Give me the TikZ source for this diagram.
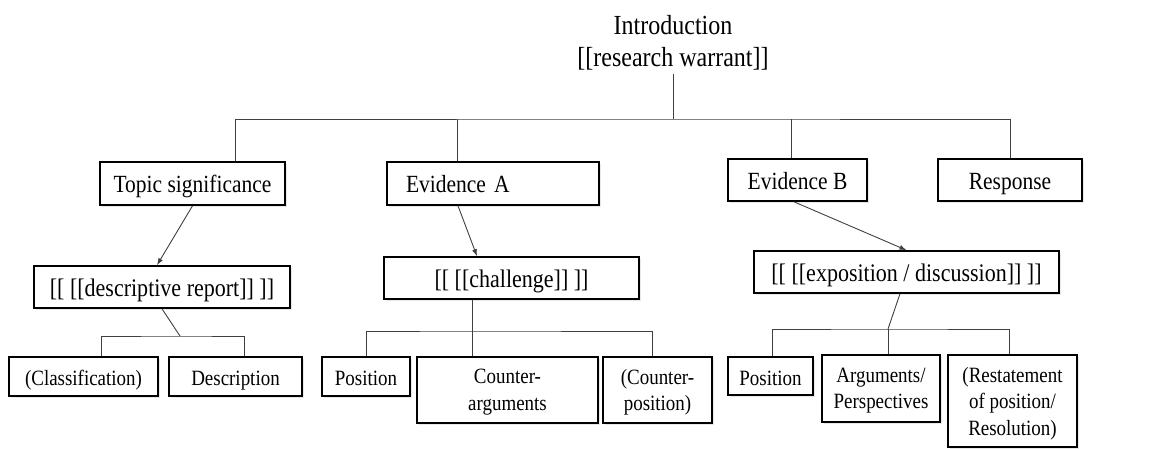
\documentclass[tikz,border=0pt]{standalone}
\usepackage{fontspec}
\setmainfont{Liberation Serif}[FakeStretch=0.87]
\usetikzlibrary{arrows.meta, shadows}

\begin{document}
\begin{tikzpicture}[
  x=1pt, y=-1pt,
  box/.style={draw, line width=1.6pt, align=center, inner sep=0pt, fill=white, text depth=0pt,
    drop shadow={shadow xshift=2pt, shadow yshift=-2pt, opacity=0.18}},
  head/.style={box, text height=18pt, font=\fontsize{24.7}{27}\selectfont},
  mid/.style={box, text height=18pt, font=\fontsize{25.3}{28}\selectfont},
  leaf/.style={box, font=\fontsize{21.8}{26.5}\selectfont},
  single/.style={text height=18pt},
  link/.style={draw=black!75, line width=0.9pt},
  arrow/.style={link, -{Latex[length=7pt, width=5pt]}}
]
  \useasboundingbox (0,0) rectangle (1173,448);

  % root
  \node[align=center, inner sep=0pt, outer sep=4pt, anchor=south,
        font=\fontsize{27.6}{32}\selectfont] (intro) at (673,74) {Introduction\\{}[[research warrant]]};
  \coordinate (top) at (673,119);

  % first level
  \node[head, minimum width=185pt, minimum height=43pt] (topic) at (192.5,183.5) {Topic significance};
  \node[head, text width=174pt, align=left, inner xsep=19pt, minimum height=43pt] (evA) at (493,183.5) {Evidence A};
  \node[head, minimum width=139pt, minimum height=42pt] (evB) at (797.5,180) {Evidence B};
  \node[head, minimum width=144pt, minimum height=42pt] (resp) at (1010,180) {Response};

  \draw[link] (intro.south) -- (top);
  \draw[link] ([xshift=42.5pt]topic.north) |- (top) -| (resp.north);
  \draw[link] ([xshift=-36pt]evA.north) -- ([xshift=-36pt]evA.north |- top);
  \draw[link] ([xshift=-6.5pt]evB.north) -- ([xshift=-6.5pt]evB.north |- top);

  % second level
  \node[mid, minimum width=256pt, minimum height=42pt] (descr) at (162,287) {[[ [[descriptive report]] ]]};
  \node[mid, minimum width=255pt, minimum height=42pt] (chal) at (511.5,278) {[[ [[challenge]] ]]};
  \node[mid, minimum width=305pt, minimum height=42pt] (expo) at (906.5,272) {[[ [[exposition / discussion]] ]]};

  \draw[arrow] (topic.south) -- ([xshift=-5pt]descr.north);
  \draw[arrow] ([xshift=-35pt]evA.south) -- ([xshift=-34.5pt]chal.north);
  \draw[arrow] ([xshift=-3.5pt]evB.south) -- (expo.north);

  % leaves under the descriptive report
  \node[leaf, single, minimum width=149pt, minimum height=39pt] (cls) at (83.5,376.5) {(Classification)};
  \node[leaf, single, minimum width=133pt, minimum height=39pt] (desc) at (235.5,376.5) {Description};
  \coordinate (dj) at (180,336);
  \draw[link] (descr.south) -- (dj);
  \draw[link] ([xshift=17.5pt]cls.north) |- (dj) -| ([xshift=8.5pt]desc.north);

  % leaves under the challenge
  \node[leaf, single, minimum width=88pt, minimum height=39pt] (posA) at (366,376.5) {Position};
  \node[leaf, minimum width=181pt, minimum height=66pt] (ctrarg) at (507.5,390) {Counter-\\arguments};
  \node[leaf, minimum width=109pt, minimum height=66pt] (ctrpos) at (657.5,390) {(Counter-\\position)};
  \coordinate (cj) at (472,331);
  \draw[link] ([xshift=-39.5pt]chal.south) -- (cj);
  \draw[link] (posA.north) |- (cj) -| ([xshift=-5.5pt]ctrpos.north);
  \draw[link] ([xshift=-35.5pt]ctrarg.north) -- (cj);

  % leaves under the exposition
  \node[leaf, single, minimum width=85pt, minimum height=38pt] (posB) at (770.5,376) {Position};
  \node[leaf, minimum width=118pt, minimum height=67pt] (args) at (881,388.5) {Arguments/\\Perspectives};
  \node[leaf, minimum width=129pt, minimum height=92pt] (rest) at (1012.5,401) {(Restatement\\of position/\\Resolution)};
  \coordinate (ej) at (888,329);
  \draw[link] ([xshift=-6.5pt]expo.south) -- (ej);
  \draw[link] ([xshift=1.5pt]posB.north) |- (ej) -| ([xshift=-3.5pt]rest.north);
  \draw[link] ([xshift=7pt]args.north) -- (ej);
\end{tikzpicture}
\end{document}
